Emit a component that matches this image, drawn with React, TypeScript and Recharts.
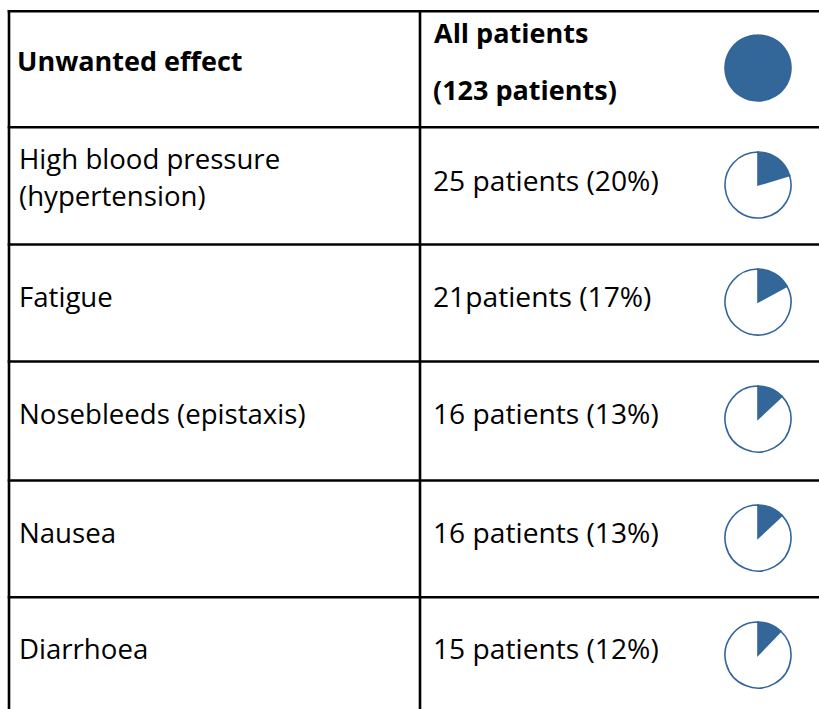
import { PieChart, Pie, Cell } from 'recharts'

const TOTAL = 123
const effects = [
    'High blood pressure|(hypertension)',
    'Fatigue',
    'Nosebleeds (epistaxis)',
    'Nausea',
    'Diarrhoea',
]
const patientCounts = [25, 21, 16, 16, 15]
const countLabels = [
    '25 patients (20%)',
    '21patients (17%)',
    '16 patients (13%)',
    '16 patients (13%)',
    '15 patients (12%)',
]

const BLUE = '#336699'
const FONT = '"Open Sans", sans-serif'
const rowLines = [11.3, 127.3, 244.5, 361.5, 480.5, 597.3]

const MiniPie = ({ count, cx, cy }: { count: number; cx: number; cy: number }) => {
    const data =
        count >= TOTAL
            ? [{ name: 'yes', value: count }]
            : [
                  { name: 'yes', value: count },
                  { name: 'no', value: TOTAL - count },
              ]
    return (
        <div style={{ position: 'absolute', left: cx - 40, top: cy - 40 }}>
            <PieChart width={80} height={80} margin={{ top: 0, right: 0, bottom: 0, left: 0 }}>
                <Pie
                    data={data}
                    dataKey="value"
                    cx="50%"
                    cy="50%"
                    outerRadius={33}
                    startAngle={90}
                    endAngle={-270}
                    isAnimationActive={false}
                    stroke={BLUE}
                    strokeWidth={1.6}
                >
                    {data.map((d) => (
                        <Cell key={d.name} fill={d.name === 'yes' ? BLUE : '#ffffff'} />
                    ))}
                </Pie>
            </PieChart>
        </div>
    )
}

export default function App() {
    return (
        <div
            style={{
                position: 'fixed',
                left: 0,
                top: 0,
                width: 819,
                height: 709,
                background: '#fff',
                overflow: 'hidden',
            }}
        >
            <svg width={819} height={709} style={{ position: 'absolute', left: 0, top: 0 }}>
                {rowLines.map((y) => (
                    <line key={y} x1={7.7} x2={819} y1={y} y2={y} stroke="#000" strokeWidth={2.6} />
                ))}
                <line x1={9} x2={9} y1={10} y2={709} stroke="#000" strokeWidth={2.6} />
                <line x1={420} x2={420} y1={10} y2={709} stroke="#000" strokeWidth={2.6} />

                <g fontFamily={FONT} fontSize={28.2} fill="#000">
                    <text x={17} y={71} fontWeight="bold" fontSize={27}>
                        Unwanted effect
                    </text>
                    <text x={434} y={43} fontWeight="bold" fontSize={27}>
                        All patients
                    </text>
                    <text x={433} y={100} fontWeight="bold" fontSize={27}>
                        (123 patients)
                    </text>
                    {effects.map((e, i) => {
                        const top = rowLines[i + 1]
                        const parts = e.split('|')
                        if (parts.length > 1) {
                            return (
                                <g key={e} fontSize={27.6}>
                                    <text x={19} y={top + 42}>
                                        {parts[0]}
                                    </text>
                                    <text x={19} y={top + 79}>
                                        {parts[1]}
                                    </text>
                                </g>
                            )
                        }
                        return (
                            <text key={e} x={19} y={top + 62} fontSize={27.6}>
                                {e}
                            </text>
                        )
                    })}
                    {countLabels.map((c, i) => (
                        <text key={i} x={433} y={rowLines[i + 1] + (i === 0 ? 64 : 62)}>
                            {c}
                        </text>
                    ))}
                </g>
            </svg>
            <MiniPie count={TOTAL} cx={757.5} cy={67.5} />
            {patientCounts.map((n, i) => (
                <MiniPie key={i} count={n} cx={757.5} cy={rowLines[i + 1] + 57.5} />
            ))}
        </div>
    )
}
